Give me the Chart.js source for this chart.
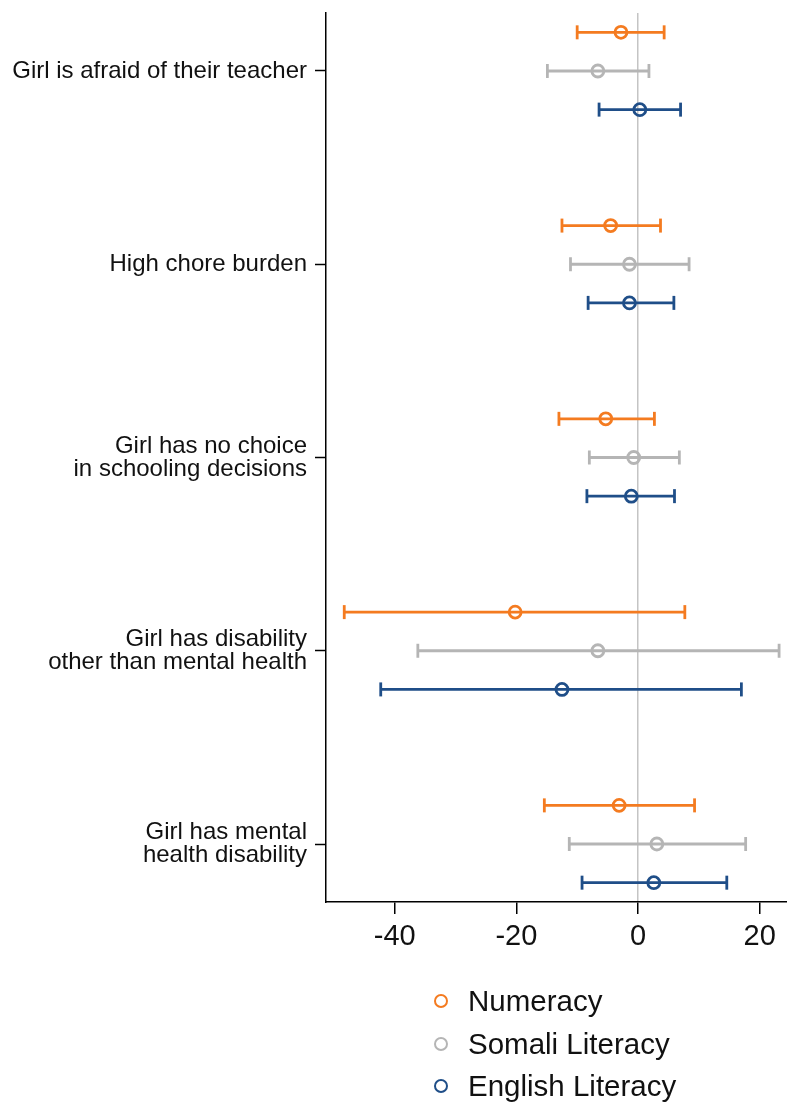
<!DOCTYPE html>
<html>
<head>
<meta charset="utf-8">
<script src="https://cdn.jsdelivr.net/npm/chart.js@4"></script>
<style>
  html, body { margin: 0; padding: 0; background: #fff; }
  #wrap { position: relative; width: 787px; height: 1102px; }
  #legend { position: absolute; left: 434px; top: 980px; font-family: 'Liberation Sans', Arial, sans-serif; font-size: 29.5px; color: #111; }
  .item { display: flex; align-items: center; height: 42.5px; }
  .dot { width: 10px; height: 10px; border-radius: 50%; border: 2.5px solid; margin-right: 20px; box-sizing: content-box; }
</style>
</head>
<body>
<div id="wrap">
  <canvas id="chart" width="787" height="1102"></canvas>
  <div id="legend"></div>
</div>
<script>
// ── Data ─────────────────────────────────────────────
const categories = [
  'Girl is afraid of their teacher',
  'High chore burden',
  ['Girl has no choice', 'in schooling decisions'],
  ['Girl has disability', 'other than mental health'],
  ['Girl has mental', 'health disability'],
];

const seriesNames = ['Numeracy', 'Somali Literacy', 'English Literacy'];

const numEst = [-2.8, -4.5, -5.3, -20.2, -3.1];
const numLo  = [-10.0, -12.5, -13.0, -48.3, -15.4];
const numHi  = [4.3, 3.7, 2.7, 7.7, 9.3];

const somEst = [-6.6, -1.4, -0.7, -6.6, 3.1];
const somLo  = [-14.9, -11.1, -8.0, -36.2, -11.3];
const somHi  = [1.8, 8.4, 6.8, 23.2, 17.7];

const engEst = [0.3, -1.4, -1.1, -12.5, 2.6];
const engLo  = [-6.4, -8.2, -8.4, -42.3, -9.2];
const engHi  = [7.0, 5.9, 6.0, 17.0, 14.6];

const xTicks = [-40, -20, 0, 20];

// ── Style ────────────────────────────────────────────
const COLORS = ['#f47b20', '#b5b5b5', '#1f4e88'];
const OFFSETS = [-0.2, 0, 0.2];
const FONT = "'Liberation Sans', Arial, sans-serif";

const series = [
  { est: numEst, lo: numLo, hi: numHi },
  { est: somEst, lo: somLo, hi: somHi },
  { est: engEst, lo: engLo, hi: engHi },
];

const datasets = [];
series.forEach((s, k) => {
  const ci = [];
  categories.forEach((_, i) => {
    const y = i + 1 + OFFSETS[k];
    ci.push({ x: s.lo[i], y }, { x: s.hi[i], y }, { x: null, y: null });
  });
  datasets.push({
    label: seriesNames[k] + ' CI',
    data: ci,
    showLine: true, spanGaps: false,
    borderColor: COLORS[k], borderWidth: 2.8,
    pointStyle: 'line', rotation: 90, pointRadius: 7,
    pointBorderColor: COLORS[k], pointBorderWidth: 2.8,
    order: 2,
  });
  datasets.push({
    label: seriesNames[k],
    data: s.est.map((v, i) => ({ x: v, y: i + 1 + OFFSETS[k] })),
    pointStyle: 'circle', pointRadius: 6,
    pointBorderColor: COLORS[k], pointBorderWidth: 2.8,
    pointBackgroundColor: 'transparent',
    order: 1,
  });
});

const chart = new Chart(document.getElementById('chart'), {
  type: 'scatter',
  data: { datasets },
  options: {
    responsive: false, animation: false,
    layout: { autoPadding: false, padding: { top: 13, right: 0, left: 0, bottom: 0 } },
    plugins: { legend: { display: false }, tooltip: { enabled: false } },
    scales: {
      x: {
        type: 'linear', min: -51.3, max: 24.5,
        afterBuildTicks: axis => { axis.ticks = xTicks.map(v => ({ value: v })); },
        afterFit: axis => { axis.height = 200; axis.paddingLeft = 0; axis.paddingRight = 0; },
        grid: {
          color: ctx => (ctx.tick && ctx.tick.value === 0 ? '#c4c4c4' : 'transparent'),
          lineWidth: 1.5, tickColor: '#000', tickLength: 12, tickWidth: 1.5,
        },
        border: { color: '#000', width: 1.5 },
        ticks: { color: '#111', padding: 6, font: { family: FONT, size: 29 } },
      },
      y: {
        type: 'linear', min: 0.7, max: 5.3, reverse: true,
        afterBuildTicks: axis => { axis.ticks = categories.map((_, i) => ({ value: i + 1 })); },
        afterFit: axis => { axis.width = 326; axis.paddingTop = 0; axis.paddingBottom = 0; },
        grid: { drawOnChartArea: false, tickColor: '#000', tickLength: 11, tickWidth: 1.5 },
        border: { color: '#000', width: 1.5 },
        ticks: {
          color: '#111', padding: 8,
          font: { family: FONT, size: 24, lineHeight: 0.96 },
          callback: v => categories[Math.round(v) - 1],
        },
      },
    },
  },
});

// ── HTML legend (stacked) ────────────────────────────
const legendEl = document.getElementById('legend');
chart.data.datasets.filter(d => d.pointStyle === 'circle').forEach(d => {
  const row = document.createElement('div');
  row.className = 'item';
  const dot = document.createElement('span');
  dot.className = 'dot';
  dot.style.borderColor = d.pointBorderColor;
  const txt = document.createElement('span');
  txt.textContent = d.label;
  row.appendChild(dot);
  row.appendChild(txt);
  legendEl.appendChild(row);
});
</script>
</body>
</html>
